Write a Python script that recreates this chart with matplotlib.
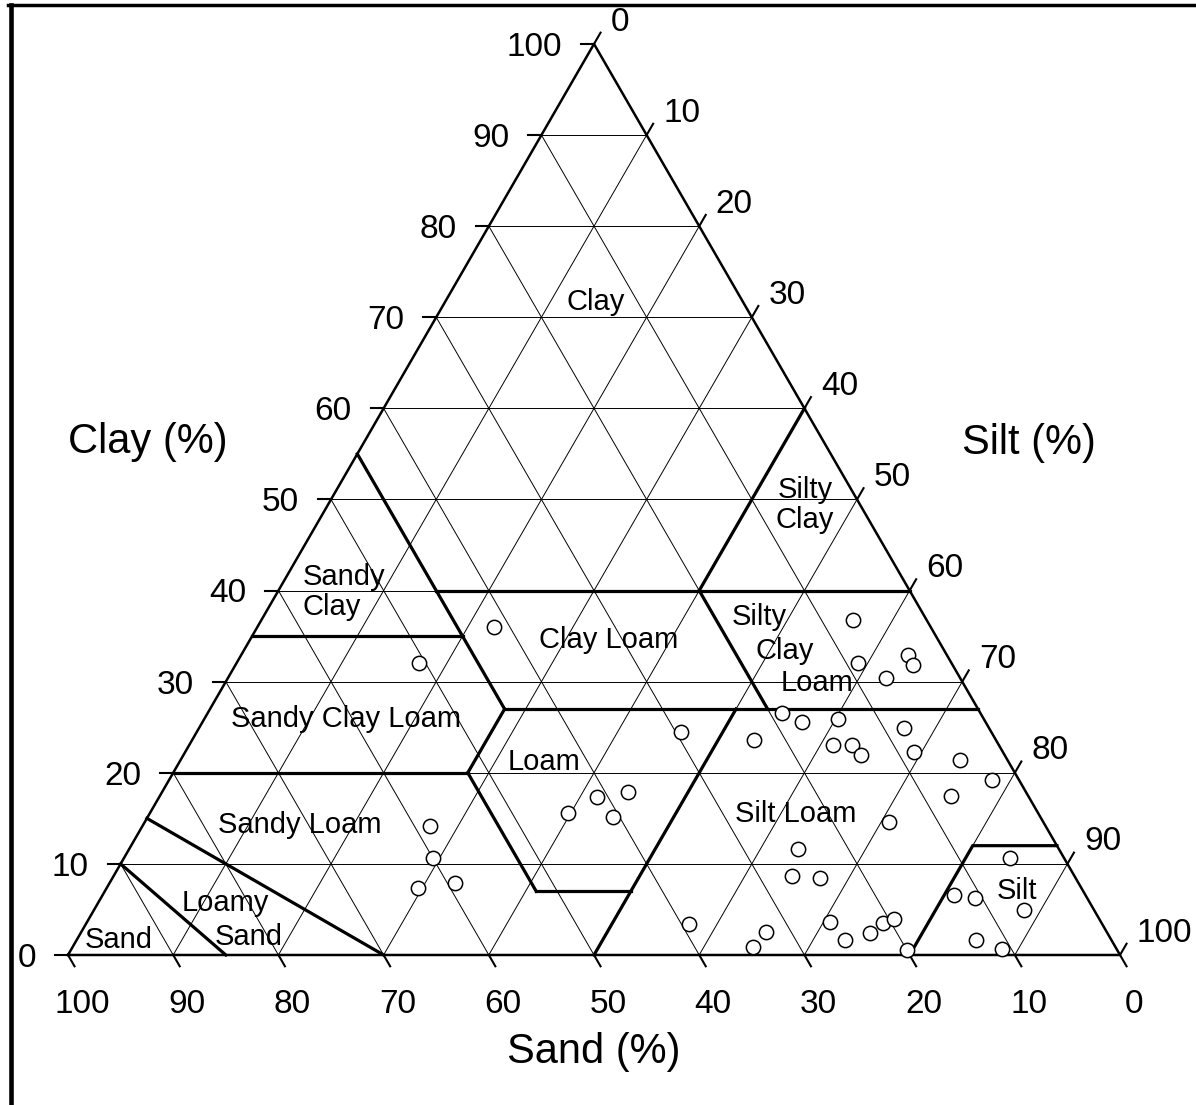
import numpy as np
import matplotlib
matplotlib.use('Agg')
import matplotlib.pyplot as plt
from matplotlib.lines import Line2D

plt.rcParams['font.family'] = ['Liberation Sans', 'DejaVu Sans']

##  sample points: clay and silt in %, sand is the rest
clay = [36.0, 32.1, 14.2, 10.6, 7.4, 7.9, 15.6, 17.3, 17.9, 15.2,
        24.5, 36.8, 32.1, 30.4, 32.9, 31.8, 26.6, 25.6, 25.9, 23.6,
        23.0, 23.0, 21.9, 24.9, 22.3, 21.4, 19.2, 17.4, 14.6, 11.6,
        8.7, 8.4, 3.4, 2.5, 0.9, 3.6, 1.6, 2.4, 3.5, 4.0,
        0.5, 10.6, 6.6, 6.3, 4.9, 1.6, 0.7]
silt = [22.5, 17.3, 27.3, 29.4, 29.6, 32.8, 39.7, 41.6, 44.3, 44.2,
        46.0, 56.2, 59.0, 62.6, 63.4, 64.4, 54.6, 57.0, 60.2, 53.4,
        61.2, 63.0, 64.4, 67.0, 69.3, 74.1, 78.2, 75.2, 70.7, 63.6,
        64.5, 67.3, 57.3, 65.1, 64.7, 70.6, 73.1, 75.0, 75.7, 76.5,
        79.5, 84.2, 80.9, 83.1, 88.4, 85.5, 88.4]
sand = [100 - c - s for c, s in zip(clay, silt)]

ticks = list(range(0, 101, 10))

##  USDA class boundaries, polylines of (clay, silt)
boundaries = [
    [(55, 0), (27, 28)],            # sand 45
    [(40, 15), (40, 60)],           # clay 40
    [(35, 0), (35, 20)],            # clay 35
    [(40, 40), (60, 40)],           # silt 40
    [(40, 40), (27, 53)],           # sand 20
    [(27, 28), (27, 73)],           # clay 27
    [(27, 28), (20, 28)],           # silt 28
    [(20, 0), (20, 28)],            # clay 20
    [(20, 28), (7, 41)],            # sand 52
    [(7, 41), (7, 50)],             # clay 7
    [(0, 50), (27, 50)],            # silt 50
    [(0, 80), (12, 80), (12, 88)],  # silt
    [(15, 0), (0, 30)],             # loamy sand / sandy loam
    [(10, 0), (0, 15)],             # sand / loamy sand
]

##  class names: (text, clay, silt, alignment)
class_labels = [
    ("Clay", 72.0, 14.2, 'center'),
    ("Silty\nClay", 49.7, 45.2, 'center'),
    ("Sandy\nClay", 40.2, 2.2, 'left'),
    ("Clay Loam", 34.9, 33.9, 'center'),
    ("Silty", 37.4, 47.0, 'center'),
    ("Clay", 33.7, 51.3, 'center'),
    ("Loam", 30.2, 56.1, 'center'),
    ("Sandy Clay Loam", 26.2, 13.3, 'center'),
    ("Loam", 21.5, 34.5, 'center'),
    ("Silt Loam", 15.8, 61.3, 'center'),
    ("Sandy Loam", 14.6, 14.7, 'center'),
    ("Loamy", 6.0, 12.0, 'center'),
    ("Sand", 2.3, 16.0, 'center'),
    ("Sand", 2.0, 3.8, 'center'),
    ("Silt", 7.4, 86.5, 'center'),
]

S3 = np.sqrt(3) / 2


def xy(c, s):
    c = np.asarray(c, dtype=float)
    s = np.asarray(s, dtype=float)
    return s + c / 2, c * S3


fig = plt.figure(figsize=(11.96, 11.05), dpi=100)
ax = fig.add_axes([0, 0, 1, 1])
ax.set_xlim(-6.464, 107.22)
ax.set_ylim(-14.26, 90.78)
ax.axis('off')

# grid
for k in ticks[1:-1]:
    for c, s in [((k, k), (0, 100 - k)),          # constant clay
                 ((0, 100 - k), (k, k)),          # constant silt
                 ((0, 100 - k), (100 - k, 0))]:   # constant sand
        x, y = xy(c, s)
        ax.plot(x, y, '-', color='black', linewidth=0.7, zorder=1)

# outline
x, y = xy([0, 0, 100, 0], [0, 100, 0, 0])
ax.plot(x, y, '-', color='black', linewidth=1.8, zorder=2)

# boundaries
for b in boundaries:
    c, s = zip(*b)
    x, y = xy(c, s)
    ax.plot(x, y, '-', color='black', linewidth=2.3, zorder=3,
            solid_joinstyle='miter')

L = 1.24
fs_tick = 24
half_cap = 1.13  # half digit height, so baseline puts digits visually centred
for k in ticks:
    # clay, left edge
    x0, y0 = xy(k, 0)
    ax.plot([x0, x0 - L], [y0, y0], '-', color='black', linewidth=1.5)
    ax.text(x0 - L - 1.8, y0 - half_cap, str(k), ha='right', va='baseline',
            fontsize=fs_tick)
    # silt, right edge
    x0, y0 = xy(100 - k, k)
    x1, y1 = x0 + 0.5 * L, y0 + S3 * L
    ax.plot([x0, x1], [y0, y1], '-', color='black', linewidth=1.5)
    ax.text(x1 + 0.95, y1 + 1.33 - half_cap, str(k), ha='left', va='baseline',
            fontsize=fs_tick)
    # sand, base
    x0, y0 = xy(0, 100 - k)
    x1, y1 = x0 + 0.5 * L, y0 - S3 * L
    ax.plot([x0, x1], [y0, y1], '-', color='black', linewidth=1.5)
    ax.text(x0 + 1.33, -4.4 - half_cap, str(k), ha='center', va='baseline',
            fontsize=fs_tick)

for txt, c, s, ha in class_labels:
    x, y = xy(c, s)
    ax.text(x, y - 0.3, txt, ha=ha, va='center', fontsize=21, linespacing=1.1,
            multialignment='left' if ha == 'left' else 'center', zorder=4)

# samples
x, y = xy(clay, silt)
ax.plot(x, y, 'o', markerfacecolor='white', markeredgecolor='black',
        markersize=10.3, markeredgewidth=1.1, linestyle='none', zorder=5)

ax.text(7.6, 48.8, "Clay (%)", ha='center', va='center', fontsize=30)
ax.text(91.3, 48.7, "Silt (%)", ha='center', va='center', fontsize=30)
ax.text(50.0, -9.2, "Sand (%)", ha='center', va='center', fontsize=30)

# scan frame, left and top only
fig.add_artist(Line2D([10.5 / 1196, 10.5 / 1196], [0, 1 - 5 / 1105],
                      transform=fig.transFigure, color='black', linewidth=3.3))
fig.add_artist(Line2D([8 / 1196, 1], [1 - 5 / 1105, 1 - 5 / 1105],
                      transform=fig.transFigure, color='black', linewidth=2.5))

plt.savefig('out.png', dpi=100)
